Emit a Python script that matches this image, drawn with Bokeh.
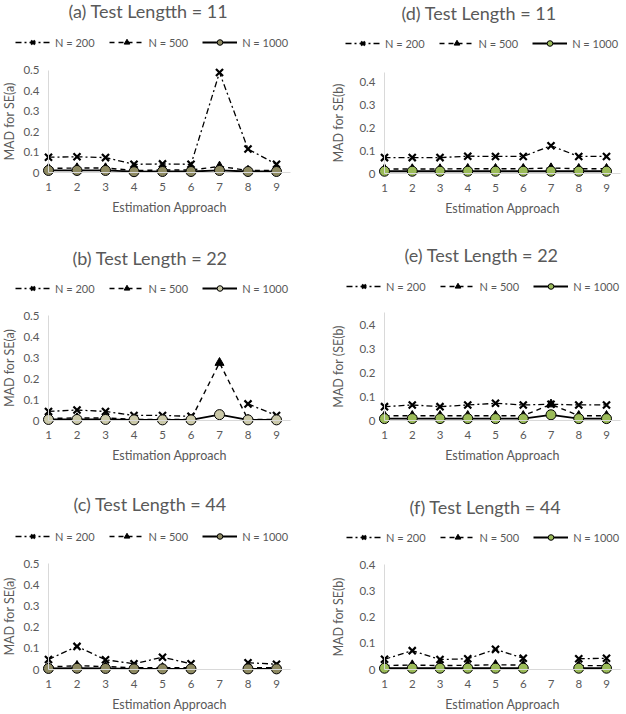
from bokeh.plotting import figure
from bokeh.models import (Legend, LegendItem, FixedTicker, Range1d, Label, LinearAxis)
from bokeh.layouts import column, row
from bokeh.embed import file_html
from bokeh.resources import INLINE

nan = float("nan")

approaches = [1, 2, 3, 4, 5, 6, 7, 8, 9]
series_labels = ["N = 200", "N = 500", "N = 1000"]

titles = ["(a) Test Lengtth = 11", "(b) Test Length = 22", "(c) Test Length = 44",
          "(d) Test Length = 11", "(e) Test Length = 22", "(f) Test Length = 44"]
y_titles = ["MAD for SE(a)", "MAD for SE(a)", "MAD for SE(a)",
            "MAD for SE(b)", "MAD for (SE(b)", "MAD for SE(b)"]
x_title = "Estimation Approach"

y_ticks_a = [0, 0.1, 0.2, 0.3, 0.4, 0.5]
y_tick_labels_a = ["0", "0.1", "0.2", "0.3", "0.4", "0.5"]
y_ticks_b = [0, 0.1, 0.2, 0.3, 0.4]
y_tick_labels_b = ["0", "0.1", "0.2", "0.3", "0.4"]

# (a) SE(a), test length 11
a200 = [0.075, 0.077, 0.073, 0.040, 0.042, 0.040, 0.490, 0.115, 0.040]
a500 = [0.020, 0.022, 0.022, 0.010, 0.012, 0.012, 0.030, 0.010, 0.010]
a1000 = [0.010, 0.010, 0.010, 0.004, 0.005, 0.005, 0.010, 0.005, 0.005]
# (b) SE(a), test length 22
b200 = [0.043, 0.050, 0.043, 0.024, 0.024, 0.020, nan, 0.079, 0.024]
b500 = [0.010, 0.012, 0.012, 0.005, 0.005, 0.005, 0.275, 0.005, 0.005]
b1000 = [0.005, 0.005, 0.005, 0.003, 0.003, 0.003, 0.028, 0.003, 0.003]
# (c) SE(a), test length 44
c200 = [0.047, 0.109, 0.046, 0.027, 0.058, 0.027, nan, 0.032, 0.025]
c500 = [0.012, 0.018, 0.014, 0.008, 0.008, 0.008, nan, 0.008, 0.008]
c1000 = [0.005, 0.006, 0.005, 0.003, 0.003, 0.003, nan, 0.003, 0.003]
# (d) SE(b), test length 11
d200 = [0.070, 0.070, 0.070, 0.076, 0.075, 0.075, 0.122, 0.075, 0.075]
d500 = [0.020, 0.020, 0.020, 0.021, 0.021, 0.021, 0.024, 0.021, 0.021]
d1000 = [0.010, 0.010, 0.010, 0.010, 0.010, 0.010, 0.010, 0.010, 0.010]
# (e) SE(b), test length 22
e200 = [0.058, 0.065, 0.058, 0.065, 0.072, 0.065, 0.068, 0.065, 0.065]
e500 = [0.020, 0.020, 0.020, 0.020, 0.020, 0.020, 0.068, 0.020, 0.020]
e1000 = [0.008, 0.008, 0.008, 0.008, 0.008, 0.008, 0.024, 0.008, 0.008]
# (f) SE(b), test length 44
f200 = [0.039, 0.072, 0.038, 0.041, 0.077, 0.043, nan, 0.041, 0.043]
f500 = [0.015, 0.017, 0.015, 0.016, 0.018, 0.017, nan, 0.015, 0.015]
f1000 = [0.005, 0.005, 0.005, 0.005, 0.005, 0.005, nan, 0.005, 0.005]

FONT = "Lato"
GRAY = "#595959"
AXIS_GRAY = "#D9D9D9"


def panel(title, ytitle, s200, s500, s1000, circ_fill, yticks, ylabels, ytop,
          width, height, xr, yr, title_xy, leg_xy, ylab_standoff, xlab_standoffs):
    p = figure(width=width, height=height, output_backend="svg",
               toolbar_location=None, title_location=None,
               x_axis_location=None, y_axis_location=None,
               x_range=Range1d(*xr), y_range=Range1d(*yr),
               min_border=0)
    p.outline_line_color = None
    p.background_fill_color = None
    p.border_fill_color = None
    p.xgrid.visible = False
    p.ygrid.visible = False

    xax = LinearAxis(fixed_location=0, bounds=(1, 9.5),
                     ticker=FixedTicker(ticks=approaches), axis_label=x_title)
    yax = LinearAxis(fixed_location=1, bounds=(0, ytop),
                     ticker=FixedTicker(ticks=yticks), axis_label=ytitle,
                     major_label_overrides={t: l for t, l in zip(yticks, ylabels)})
    for ax in (xax, yax):
        ax.axis_line_color = AXIS_GRAY
        ax.axis_line_width = 1
        ax.major_tick_line_color = None
        ax.minor_tick_line_color = None
        ax.major_tick_out = 0
        ax.major_tick_in = 0
        ax.major_label_text_font = FONT
        ax.major_label_text_font_size = "11.5px"
        ax.major_label_text_color = GRAY
        ax.axis_label_text_font = FONT
        ax.axis_label_text_font_size = "12.5px"
        ax.axis_label_text_font_style = "normal"
        ax.axis_label_text_color = GRAY
    xax.major_label_standoff = xlab_standoffs[0]
    xax.axis_label_standoff = xlab_standoffs[1]
    yax.major_label_standoff = 9
    yax.axis_label_standoff = ylab_standoff
    p.add_layout(xax, "below")
    p.add_layout(yax, "left")

    l1 = p.line(approaches, s200, line_color="black", line_width=1.3, line_dash="6 3 2 3")
    m1 = p.scatter(approaches, s200, marker="x", size=10, line_color="black", line_width=2.2)
    l2 = p.line(approaches, s500, line_color="black", line_width=1.4, line_dash="5 4")
    m2 = p.scatter(approaches, s500, marker="triangle", size=9, fill_color="black",
                   line_color="black")
    l3 = p.line(approaches, s1000, line_color="black", line_width=1.8)
    m3 = p.scatter(approaches, s1000, marker="circle", size=10, fill_color=circ_fill,
                   line_color="black", line_width=1)

    leg = Legend(items=[LegendItem(label=series_labels[0], renderers=[l1, m1]),
                        LegendItem(label=series_labels[1], renderers=[l2, m2]),
                        LegendItem(label=series_labels[2], renderers=[l3, m3])],
                 orientation="horizontal", location=leg_xy,
                 glyph_width=35, glyph_height=14, label_standoff=5, spacing=14,
                 padding=0, margin=0, background_fill_alpha=0, border_line_alpha=0,
                 label_text_font=FONT, label_text_font_size="11px", label_text_color=GRAY,
                 label_height=14)
    p.add_layout(leg, "center")
    p.add_layout(Label(x=title_xy[0], y=title_xy[1], x_units="screen", y_units="screen",
                       text=title, text_font=FONT, text_font_size="18px",
                       text_color=GRAY, text_baseline="middle", text_align="left"))
    return p


W = 313
L_XR = (-0.6842, 10.298)
R_XR = (-1.5586, 9.7207)

pa = panel(titles[0], y_titles[0], a200, a500, a1000, "#8E8A62", y_ticks_a, y_tick_labels_a,
           0.5, W, 235, L_XR, (-0.3088, 0.8431), (68, 225), (15, 186), 3, (10, 6))
pd = panel(titles[3], y_titles[3], d200, d500, d1000, "#9BBB59", y_ticks_b, y_tick_labels_b,
           0.445, W, 235, R_XR, (-0.2725, 0.7604), (88, 223), (32, 185), 10, (10, 6))
pb = panel(titles[1], y_titles[1], b200, b500, b1000, "#CBC9A9", y_ticks_a, y_tick_labels_a,
           0.5, W, 235, L_XR, (-0.2381, 0.8810), (72, 213), (15, 175), 3, (10, 6))
pe = panel(titles[4], y_titles[4], e200, e500, e1000, "#9BBB59", y_ticks_b, y_tick_labels_b,
           0.45, W, 235, R_XR, (-0.2092, 0.7741), (91, 216), (33, 177), 10, (10, 6))
pc = panel(titles[2], y_titles[2], c200, c500, c1000, "#8E8A62", y_ticks_a, y_tick_labels_a,
           0.5, W, 243, L_XR, (-0.2075, 0.9387), (73, 210), (15, 170), 3, (10, 6))
pf = panel(titles[5], y_titles[5], f200, f500, f1000, "#9BBB59", y_ticks_b, y_tick_labels_b,
           0.4, W, 243, R_XR, (-0.1679, 0.7595), (96, 207), (33, 169), 10, (10, 6))

layout = column(row(pa, pd), row(pb, pe), row(pc, pf))
open("out.html", "w").write(file_html(layout, INLINE))
